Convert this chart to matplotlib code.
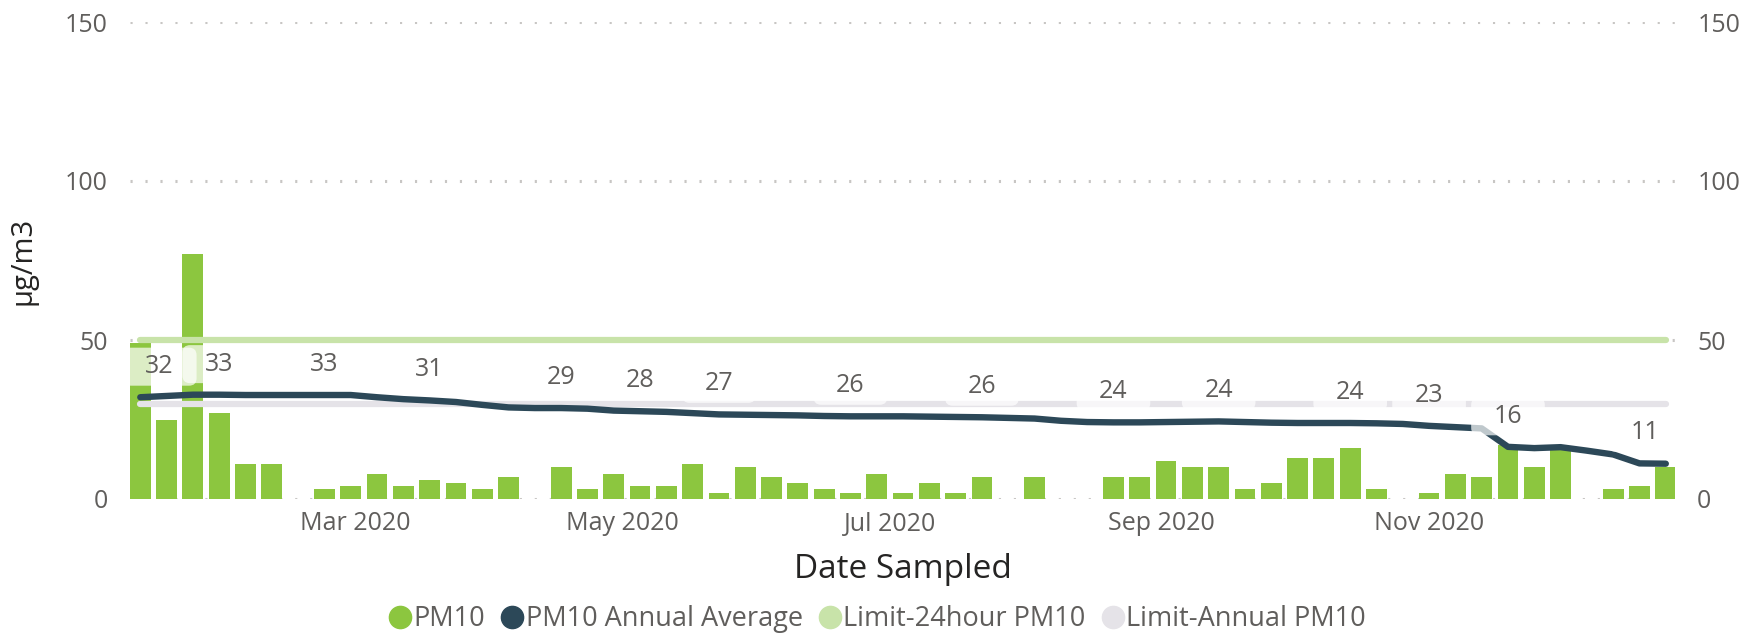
import numpy as np
import pandas as pd
import matplotlib
matplotlib.use("Agg")
from matplotlib import pyplot as plt
from matplotlib.patches import BoxStyle
from matplotlib.lines import Line2D

# 1-in-6 day sampling, first sample 12 Jan 2020
dates = pd.date_range("2020-01-12", periods=59, freq="6D")

nan = np.nan
pm10 = [49, 25, 77, 27, 11, 11, nan, 3, 4, 8,
        4, 6, 5, 3, 7, nan, 10, 3, 8, 4,
        4, 11, 2, 10, 7, 5, 3, 2, 8, 2,
        5, 2, 7, nan, 7, nan, nan, 7, 7, 12,
        10, 10, 3, 5, 13, 13, 16, 3, nan, 2,
        8, 7, 17, 10, 16, nan, 3, 4, 10]

pm10_annual_avg = [32.0, 32.4, 32.8, 32.8, 32.7, 32.7, 32.7, 32.7, 32.7, 32.0,
                   31.4, 31.0, 30.5, 29.6, 28.8, 28.6, 28.6, 28.4, 27.8, 27.6,
                   27.4, 27.0, 26.6, 26.5, 26.4, 26.3, 26.1, 26.0, 26.0, 26.0,
                   25.9, 25.8, 25.7, 25.5, 25.3, 24.6, 24.2, 24.1, 24.1, 24.2,
                   24.3, 24.4, 24.2, 24.0, 23.9, 23.9, 23.9, 23.8, 23.6, 23.0,
                   22.6, 22.2, 16.4, 16.0, 16.3, 15.2, 14.0, 11.2, 11.1]

# samples where the annual average shows a data label
label_idx = [0, 3, 7, 11, 16, 19, 22, 27, 32, 37, 41, 46, 49, 52, 57]

limit_24h = 50
limit_annual = 30

tick_dates = ["2020-03-01", "2020-05-01", "2020-07-01", "2020-09-01", "2020-11-01"]
tick_labels = ["Mar 2020", "May 2020", "Jul 2020", "Sep 2020", "Nov 2020"]
y_ticks = [0, 50, 100, 150]

GREEN = "#8cc63f"
DARK = "#2c4858"
LIGHT_GREEN = "#c8e3a9"
LIGHT_GREY = "#e5e3e8"
TXT = "#605e5c"

plt.rcParams["font.family"] = ["Open Sans", "DejaVu Sans"]


def label_box(x0, y0, width, height, mutation_size):
    px, py = 0.9 * mutation_size, 0.26 * mutation_size
    return BoxStyle.Round(pad=0, rounding_size=0.3)(
        x0 - px, y0 - py, width + 2 * px, height + 2 * py, mutation_size)


fig = plt.figure(figsize=(17.57, 6.39), dpi=100)
W, H = 1757, 639
ax = fig.add_axes([130 / W, 1 - 499 / H, (1675 - 130) / W, (499 - 22) / H])

n = len(dates)
ax.bar(dates, pm10, width=4.75, color=GREEN, zorder=2)
ax.plot(dates, [limit_24h] * n, color=LIGHT_GREEN, lw=4.5, solid_capstyle="round", zorder=3)
ax.plot(dates, [limit_annual] * n, color=LIGHT_GREY, lw=4.5, solid_capstyle="round", zorder=3)
ax.plot(dates, pm10_annual_avg, color=DARK, lw=4.6, solid_capstyle="round",
        solid_joinstyle="round", zorder=4)

for i in label_idx:
    dx = 14 if i == 0 else (4 if i == label_idx[-1] else 0)
    ax.annotate(f"{pm10_annual_avg[i]:.0f}", (dates[i], pm10_annual_avg[i]),
                xytext=(dx, 22), textcoords="offset points", ha="center", va="center",
                fontsize=18, color=TXT, zorder=6,
                bbox=dict(boxstyle=label_box, fc="white", ec="none", alpha=0.7))

ax.set_ylim(0, 150)
ax.set_xlim(dates[0] - pd.Timedelta(days=2.35), dates[-1] + pd.Timedelta(days=2.1))
ax.set_yticks(y_ticks)
ax.set_xticks(pd.to_datetime(tick_dates))
ax.set_xticklabels(tick_labels)
ax.tick_params(length=0, labelsize=18, labelcolor=TXT, labelright=True)
ax.tick_params(axis="y", pad=16)
ax.tick_params(axis="x", pad=9)
ax.grid(axis="y", color="#c8c6c4", lw=2.2, linestyle=(0, (0.7, 4.2)))
ax.set_axisbelow(True)
for s in ax.spines.values():
    s.set_visible(False)

ax.set_ylabel("µg/m3", fontsize=21, color="#252423", labelpad=20)
ax.set_xlabel("Date Sampled", fontsize=24, color="#252423", labelpad=12)

handles = [Line2D([], [], ls="none", marker="o", ms=16, color=c)
           for c in (GREEN, DARK, LIGHT_GREEN, LIGHT_GREY)]
names = ["PM10", "PM10 Annual Average", "Limit-24hour PM10", "Limit-Annual PM10"]
leg = fig.legend(handles, names, ncol=4, loc="center", bbox_to_anchor=(876 / W, 20 / H),
                 frameon=False, fontsize=19.5, handletextpad=0.0, columnspacing=0.5,
                 handlelength=1.0)
for t in leg.get_texts():
    t.set_color(TXT)

fig.savefig("out.png", dpi=100)
